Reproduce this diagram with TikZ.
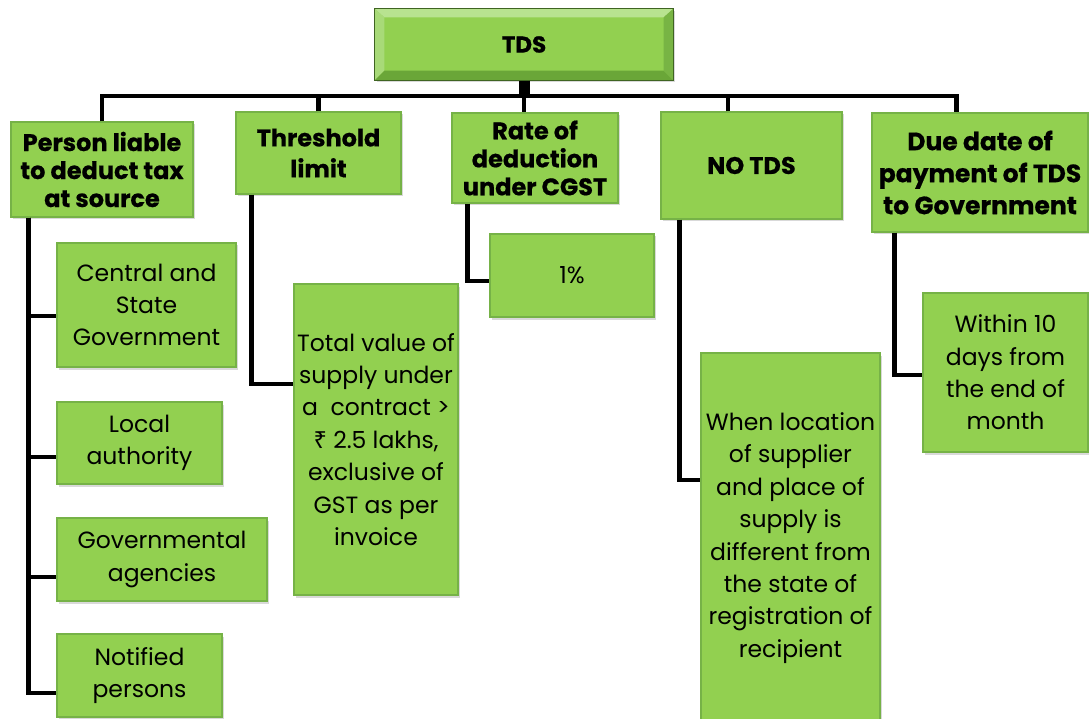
\documentclass[tikz,border=0pt]{standalone}
\usepackage{fontspec}
\setmainfont{Poppins}
\newfontfamily\rupeefont{Noto Sans}
\usepackage{tikz}
\usetikzlibrary{
  positioning,
  shadows,
  backgrounds
}
\definecolor{boxgreen}{HTML}{92D050}
\definecolor{boxedge}{HTML}{76B247}
\definecolor{bevtop}{HTML}{B8E390}
\definecolor{bevleft}{HTML}{A8DA78}
\definecolor{bevbot}{HTML}{6AA638}
\definecolor{bevright}{HTML}{78B444}
\tikzset{
  greenbox/.style={draw=boxedge,line width=1.2pt,fill=boxgreen,inner sep=0pt,align=center,
    drop shadow={shadow xshift=2pt,shadow yshift=-2.5pt,opacity=0.3}},
  headbox/.style={greenbox,font=\fontsize{24}{28}\selectfont\bfseries\addfontfeature{FakeBold=0.6}},
  itembox/.style={greenbox,font=\fontsize{23.5}{32.4}\selectfont},
  conn/.style={line width=4.5pt,black}
}

\begin{document}
\begin{tikzpicture}[x=1pt,y=-1pt]
  \useasboundingbox (0,0) rectangle (1089,719);
  % top of the tree
  \node[headbox,font=\fontsize{23}{28}\selectfont\bfseries\addfontfeature{FakeBold=0.6},minimum width=298pt,minimum height=71pt] (tds) at (524,44.5) {TDS};
  \fill[bevtop] (tds.north west) -- (tds.north east) -- ([shift={(-10pt,-9pt)}]tds.north east) -- ([shift={(10pt,-9pt)}]tds.north west) -- cycle;
  \fill[bevleft] (tds.north west) -- ([shift={(10pt,-9pt)}]tds.north west) -- ([shift={(10pt,10pt)}]tds.south west) -- (tds.south west) -- cycle;
  \fill[bevbot] (tds.south west) -- ([shift={(10pt,10pt)}]tds.south west) -- ([shift={(-10pt,10pt)}]tds.south east) -- (tds.south east) -- cycle;
  \fill[bevright] (tds.north east) -- ([shift={(-10pt,-9pt)}]tds.north east) -- ([shift={(-10pt,10pt)}]tds.south east) -- (tds.south east) -- cycle;
  \draw[bevbot!60!black,line width=1pt] (tds.north west) rectangle (tds.south east);
  % headings
  \node[headbox,minimum width=182pt,minimum height=95pt]  (p1)   at (102,169.5) {Person liable\\to deduct tax\\at source};
  \node[headbox,font=\fontsize{24}{31}\selectfont\bfseries\addfontfeature{FakeBold=0.6},minimum width=165pt,minimum height=82pt] (thr) at (318.5,153) {Threshold\\limit};
  \node[headbox,minimum width=166pt,minimum height=90pt]  (rate) at (535,158)   {Rate of\\deduction\\under CGST};
  \node[headbox,minimum width=181pt,minimum height=107pt] (nt)   at (751.5,165.5) {NO TDS};
  \node[headbox,font=\fontsize{25}{32}\selectfont\bfseries\addfontfeature{FakeBold=0.6},minimum width=216pt,minimum height=119pt] (due) at (980,172.5) {Due date of\\payment of TDS\\to Government};
  % items
  \node[itembox,minimum width=179pt,minimum height=124pt] (c1) at (146.5,305) {Central and\\State\\Government};
  \node[itembox,minimum width=165pt,minimum height=82pt]  (c2) at (139.5,443) {Local\\authority};
  \node[itembox,minimum width=210pt,minimum height=83pt]  (c3) at (162,559.5) {Governmental\\agencies};
  \node[itembox,minimum width=165pt,minimum height=83pt]  (c4) at (139.5,675.5) {Notified\\persons};
  \node[itembox,minimum width=164pt,minimum height=311pt] (thrv) at (376,439.5)
    {Total value of\\supply under\\a\ \ contract >\\{\rupeefont ₹} 2.5 lakhs,\\exclusive of\\GST as per\\invoice};
  \node[itembox,minimum width=164pt,minimum height=83pt]  (ratev) at (572,275.5) {1\%};
  \node[itembox,minimum width=179pt,minimum height=370pt] (ntv) at (790.5,538)
    {When location\\of supplier\\and place of\\supply is\\different from\\the state of\\registration of\\recipient};
  \node[itembox,minimum width=165pt,minimum height=159pt] (duev) at (1005.5,372.5) {Within 10\\days from\\the end of\\month};
  % connectors
  \coordinate (bus) at (524,96);
  \draw[line width=11pt] (tds.south) -- (bus);
  \draw[conn] (p1.north) |- (bus) -| ([xshift=-23.5pt]due.north);
  \draw[conn] (thr.north) -- (thr.north |- bus);
  \draw[conn] (bus) -- (bus |- rate.north);
  \draw[conn] ([xshift=-23.5pt]nt.north) -- ([xshift=-23.5pt]nt.north |- bus);
  \foreach \c/\dy in {c1/-11,c2/-14,c3/-17.5,c4/-17.5}
    \draw[conn] ([xshift=18pt]p1.south west) |- ([yshift=\dy pt]\c.west);
  \draw[conn] ([xshift=16pt]thr.south west) |- ([yshift=55.5pt]thrv.west);
  \draw[conn] ([xshift=16pt]rate.south west) |- ([yshift=-5.5pt]ratev.west);
  \draw[conn] ([xshift=19pt]nt.south west) |- ([yshift=58pt]ntv.west);
  \draw[conn] ([xshift=23pt]due.south west) |- ([yshift=-2.5pt]duev.west);
\end{tikzpicture}
\end{document}
